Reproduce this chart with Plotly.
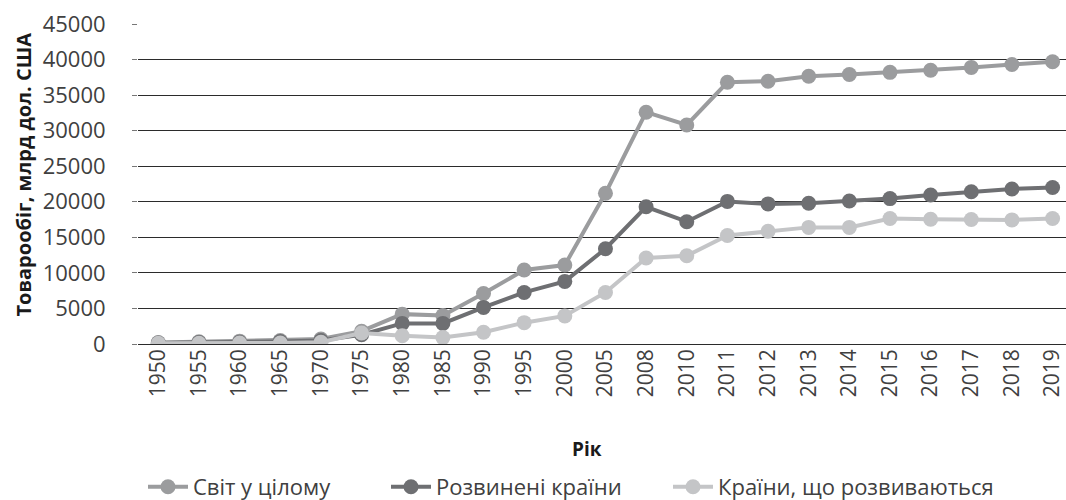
import plotly.graph_objects as go

years = ["1950", "1955", "1960", "1965", "1970", "1975", "1980", "1985", "1990", "1995",
         "2000", "2005", "2008", "2010", "2011", "2012", "2013", "2014", "2015", "2016",
         "2017", "2018", "2019"]

world = [200, 300, 400, 500, 700, 1800, 4200, 4000, 7100, 10400,
         11100, 21200, 32600, 30800, 36800, 36950, 37650, 37900, 38200, 38500,
         38900, 39300, 39700]

developed = [150, 200, 250, 350, 500, 1300, 2900, 2900, 5150, 7250,
             8800, 13400, 19300, 17200, 20050, 19700, 19800, 20100, 20450, 20950,
             21400, 21800, 22000]

developing = [100, 100, 150, 150, 250, 1550, 1150, 900, 1650, 3000,
              3950, 7250, 12100, 12400, 15250, 15850, 16400, 16400, 17650, 17550,
              17500, 17450, 17650]

names = ["Світ у цілому", "Розвинені країни", "Країни, що розвиваються"]
colors = ["#9b9c9e", "#6e6f72", "#c4c5c7"]
series = [world, developed, developing]
legends = ["legend", "legend2", "legend3"]
legend_x = [143 / 1066, 386 / 1066, 668 / 1066]

FONT = "Open Sans"
TXT = "#404040"

fig = go.Figure()
for i in range(3):
    fig.add_trace(go.Scatter(
        x=years, y=series[i], name=names[i], mode="lines+markers",
        line=dict(color=colors[i], width=4),
        marker=dict(color=colors[i], size=15),
        legend=legends[i], showlegend=True,
    ))

leg_common = dict(orientation="h", yref="container", xref="container", yanchor="middle",
                  xanchor="left", y=0.026, bgcolor="rgba(0,0,0,0)",
                  font=dict(family=FONT, size=22, color=TXT), itemwidth=40)

fig.update_layout(
    width=1066, height=500, showlegend=True,
    margin=dict(l=138, r=0, t=24, b=155.5, autoexpand=False),
    plot_bgcolor="white", paper_bgcolor="white",
    font=dict(family=FONT, size=20, color=TXT),
    legend=dict(x=legend_x[0], **leg_common),
    legend2=dict(x=legend_x[1], **leg_common),
    legend3=dict(x=legend_x[2], **leg_common),
    xaxis=dict(
        type="category", range=[-0.5, 22.33], tickangle=-90, automargin=False,
        showgrid=False, ticks="", showline=False,
        tickfont=dict(family=FONT, size=21, color=TXT),
    ),
    yaxis=dict(
        range=[0, 45000], dtick=5000, showgrid=True, gridcolor="#2b2b2b", gridwidth=1,
        zeroline=True, zerolinecolor="#2b2b2b", zerolinewidth=1, automargin=False,
        ticks="outside", ticklen=5, tickcolor="#777777", ticklabelstandoff=22,
        tickformat="d",
        tickfont=dict(family=FONT, size=22, color=TXT),
    ),
    annotations=[
        dict(text="<b>Рік</b>", xref="paper", yref="paper", x=(587 - 138) / 928, y=(344.5 - 449) / 320,
             xanchor="center", yanchor="middle", showarrow=False,
             font=dict(family=FONT, size=19, color="#1a1a1a")),
        dict(text="<b>Товарообіг, млрд дол. США</b>", xref="paper", yref="paper",
             x=(23 - 138) / 928, y=(344.5 - 175) / 320, textangle=-90,
             xanchor="center", yanchor="middle", showarrow=False,
             font=dict(family=FONT, size=20, color="#1a1a1a")),
    ],
)

fig.write_html("out.html", config={"displayModeBar": False},
               post_script="document.body.style.margin='0px';document.body.style.overflow='hidden';")
